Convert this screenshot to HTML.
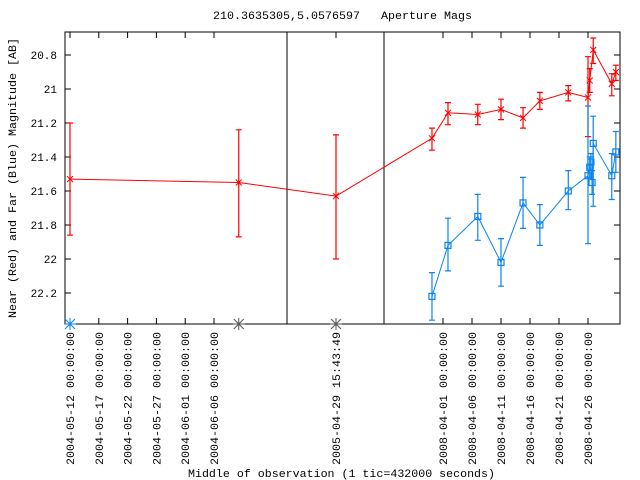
<!DOCTYPE html>
<html><head><meta charset="utf-8"><style>
body{margin:0;background:#fff}
svg{display:block;font-family:"Liberation Mono",monospace}
text{white-space:pre}
</style></head><body>
<svg id="chart" width="640" height="480" viewBox="0 0 640 480" xmlns="http://www.w3.org/2000/svg">
<text x="213" y="19" font-size="11" textLength="259" lengthAdjust="spacingAndGlyphs" xml:space="preserve">210.3635305,5.0576597   Aperture Mags</text>
<text x="188" y="477" font-size="11" textLength="307" lengthAdjust="spacingAndGlyphs">Middle of observation (1 tic=432000 seconds)</text>
<text transform="translate(16,178) rotate(-90)" text-anchor="middle" font-size="11" textLength="280" lengthAdjust="spacingAndGlyphs">Near (Red) and Far (Blue) Magnitude [AB]</text>
<g id="axes"></g>
<g id="marks"></g>
</svg>
<script>
const yTicks = [20.8, 21, 21.2, 21.4, 21.6, 21.8, 22, 22.2];
const yTickLabels = ["20.8", "21", "21.2", "21.4", "21.6", "21.8", "22", "22.2"];
const xTickSeg = [0, 0, 0, 0, 0, 0, 1, 2, 2, 2, 2, 2, 2];
const xTickDay = [0, 5, 10, 15, 20, 25, 0, 0, 5, 10, 15, 20, 25];
const xTickLabels = ["2004-05-12 00:00:00","2004-05-17 00:00:00","2004-05-22 00:00:00","2004-05-27 00:00:00","2004-06-01 00:00:00","2004-06-06 00:00:00","2005-04-29 15:43:49","2008-04-01 00:00:00","2008-04-06 00:00:00","2008-04-11 00:00:00","2008-04-16 00:00:00","2008-04-21 00:00:00","2008-04-26 00:00:00"];
const redSeg = [0, 0, 1, 2, 2, 2, 2, 2, 2, 2, 2, 2, 2, 2, 2];
const redDay = [0, 29.3, 0, -1.9, 0.86, 6.0, 10.0, 13.8, 16.7, 21.6, 25.0, 25.3, 25.9, 29.1, 29.8];
const redMag = [21.53, 21.55, 21.63, 21.29, 21.14, 21.15, 21.12, 21.17, 21.07, 21.02, 21.05, 20.95, 20.77, 20.97, 20.90];
const redLo = [21.2, 21.24, 21.27, 21.23, 21.08, 21.09, 21.06, 21.11, 21.02, 20.98, 20.81, 20.88, 20.70, 20.91, 20.86];
const redHi = [21.86, 21.87, 22.0, 21.36, 21.21, 21.21, 21.18, 21.23, 21.12, 21.07, 21.28, 21.02, 20.85, 21.04, 20.95];
const blueSeg = [2, 2, 2, 2, 2, 2, 2, 2, 2, 2, 2, 2, 2, 2];
const blueDay = [-1.9, 0.86, 6.0, 10.0, 13.8, 16.7, 21.6, 25.0, 25.3, 25.5, 25.7, 25.9, 29.1, 29.8];
const blueMag = [22.22, 21.92, 21.75, 22.02, 21.67, 21.80, 21.60, 21.51, 21.46, 21.43, 21.55, 21.32, 21.51, 21.37];
const blueLo = [22.08, 21.76, 21.62, 21.88, 21.52, 21.68, 21.48, 21.10, 21.40, 21.38, 21.48, 21.16, 21.38, 21.25];
const blueHi = [22.36, 22.07, 21.89, 22.16, 21.82, 21.92, 21.71, 21.91, 21.52, 21.48, 21.62, 21.69, 21.65, 21.49];
const offSeg = [0, 1, 0];
const offDay = [0, 0, 29.3];

const L = 65, R = 620, T = 32, B = 324;
const segOrigin = [70, 336, 443];
const segScale = [5.76, 5.8, 5.8];
const breaks = [287, 384];
function xPos(seg, day) { return segOrigin[seg] + day * segScale[seg]; }
function yPos(m) { return 89 + (m - 21) * 170; }
const NS = "http://www.w3.org/2000/svg";
function mk(parent, tag, attrs) {
  const e = document.createElementNS(NS, tag);
  for (const k in attrs) e.setAttribute(k, attrs[k]);
  parent.appendChild(e);
  return e;
}
const axes = document.getElementById("axes");
const marks = document.getElementById("marks");
const frame = mk(axes, "rect", {x: L, y: T, width: R - L, height: B - T, fill: "none", stroke: "#000", "stroke-width": 1});


breaks.forEach(function (bx) {
  const l = mk(axes, "line", {x1: bx, y1: T, x2: bx, y2: B, stroke: "#000"});
  
  
});
yTicks.forEach(function (v, i) {
  const y = yPos(v);
  const t1 = mk(axes, "path", {d: "M" + L + " " + y + "h6M" + R + " " + y + "h-6", stroke: "#000"});
  
  
  const tx = mk(axes, "text", {x: L - 8, y: y + 4, "text-anchor": "end", "font-size": 11});
  tx.textContent = yTickLabels[i];
  
  
});
xTickLabels.forEach(function (lab, i) {
  const x = xPos(xTickSeg[i], xTickDay[i]);
  const t = mk(axes, "path", {d: "M" + x + " " + B + "v-6M" + x + " " + T + "v6", stroke: "#000"});
  
  
  const tx = mk(axes, "text", {transform: "translate(" + (x + 4) + ",332) rotate(-90)", "text-anchor": "end", "font-size": 11, textLength: 133, lengthAdjust: "spacingAndGlyphs"});
  tx.textContent = lab;
  
  
});
function series(seg, day, mag, lo, hi, color, kind, name) {
  const pts = mag.map(function (m, i) { return xPos(seg[i], day[i]) + "," + yPos(m); });
  const pl = mk(marks, "polyline", {points: pts.join(" "), fill: "none", stroke: color, "stroke-width": 1});
  
  
  mag.forEach(function (m, i) {
    const x = xPos(seg[i], day[i]), y = yPos(m), y1 = yPos(lo[i]), y2 = yPos(hi[i]);
    const eb = mk(marks, "path", {d: "M" + x + " " + y1 + "V" + y2 + "M" + (x - 3) + " " + y1 + "h6M" + (x - 3) + " " + y2 + "h6", stroke: color, "stroke-width": 1.2, fill: "none"});
    
    
    let p;
    if (kind === "x") {
      p = mk(marks, "path", {d: "M" + (x - 3) + " " + (y - 3) + "l6 6M" + (x - 3) + " " + (y + 3) + "l6 -6M" + x + " " + (y - 3) + "v6", stroke: color, "stroke-width": 1});
    } else {
      p = mk(marks, "rect", {x: x - 3, y: y - 3, width: 6, height: 6, fill: "none", stroke: color, "stroke-width": 1.2});
    }
    
    
  });
}
series(redSeg, redDay, redMag, redLo, redHi, "#ff0000", "x", "near-red");
series(blueSeg, blueDay, blueMag, blueLo, blueHi, "#0a84ee", "sq", "far-blue");
offDay.forEach(function (d, i) {
  const x = xPos(offSeg[i], d), y = B;
  const s = mk(marks, "path", {d: "M" + (x - 6) + " " + y + "h12M" + x + " " + (y - 6) + "v12M" + (x - 5) + " " + (y - 5) + "l10 10M" + (x - 5) + " " + (y + 5) + "l10 -10", stroke: i === 0 ? "#0a84ee" : "#555", "stroke-width": 1});
  
  
});
</script>
</body></html>
